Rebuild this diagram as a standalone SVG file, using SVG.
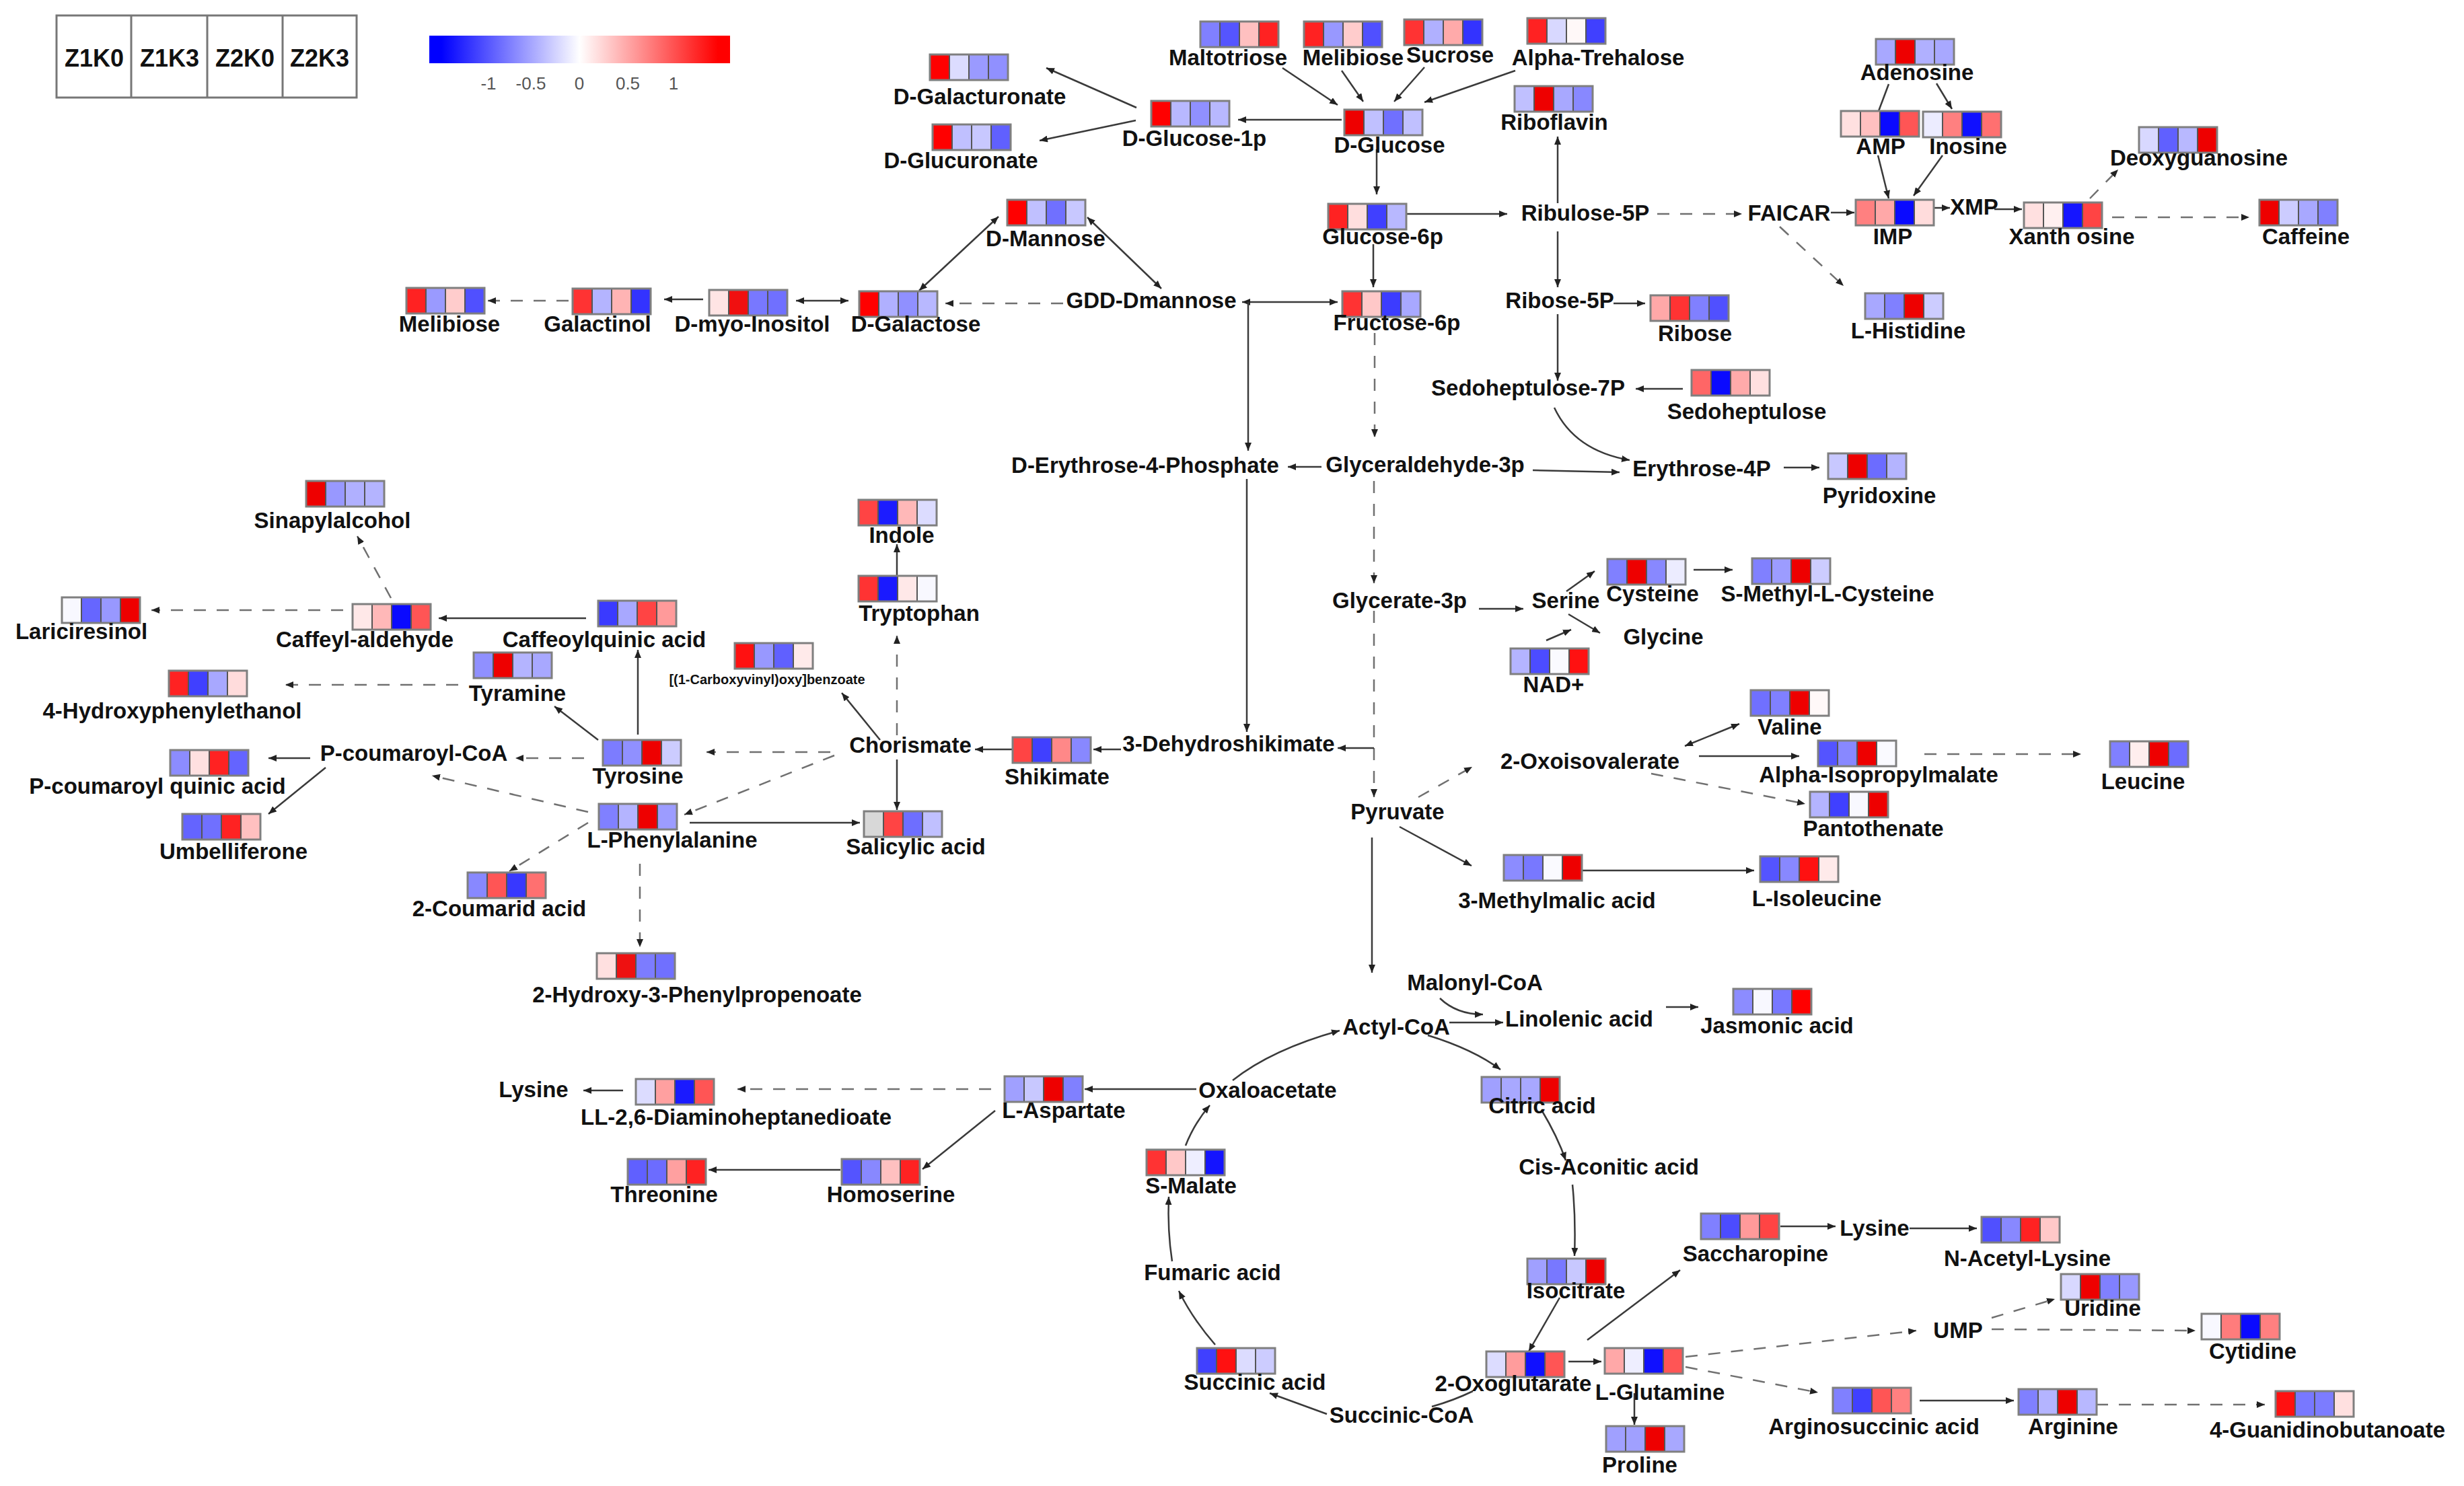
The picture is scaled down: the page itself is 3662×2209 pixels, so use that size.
<svg xmlns="http://www.w3.org/2000/svg" width="3662" height="2209" viewBox="0 0 3662 2209">
<defs>
<linearGradient id="cb" x1="0" y1="0" x2="1" y2="0">
<stop offset="0" stop-color="#0000ff"/><stop offset="0.04" stop-color="#0000ff"/><stop offset="0.5" stop-color="#ffffff"/><stop offset="0.96" stop-color="#ff0000"/><stop offset="1" stop-color="#ff0000"/>
</linearGradient>
<marker id="a" markerUnits="userSpaceOnUse" markerWidth="13" markerHeight="10" refX="12" refY="5" orient="auto-start-reverse"><path d="M0,0 L12,5 L0,10 z" fill="#222"/></marker>
</defs>
<style>
text{font-family:"Liberation Sans",Arial,sans-serif;fill:#111}
.l{font-size:33px;font-weight:bold;text-anchor:middle}
.sm{font-size:20px;font-weight:bold;text-anchor:middle}
.lg{font-size:36px;font-weight:bold;text-anchor:middle}
.tk{font-family:"Liberation Sans Narrow","Liberation Sans",sans-serif;font-size:26px;fill:#555;text-anchor:middle}
.hm rect{stroke:#555;stroke-width:2}
.hm rect.o{fill:none;stroke:#7f7f7f;stroke-width:3}
#edges path{fill:none;stroke:#3a3a3a;stroke-width:2.5}
#edges .d{stroke:#707070;stroke-dasharray:18 16}
#edges .e{marker-end:url(#a)}
#edges .b{marker-start:url(#a);marker-end:url(#a)}
</style>
<rect width="3662" height="2209" fill="#fff"/>
<g id="legend">
<rect x="84" y="23" width="446" height="122" fill="#fff" stroke="#777" stroke-width="3"/>
<path d="M195,23V145M308,23V145M420,23V145" stroke="#777" stroke-width="3"/>
<text class="lg" x="140" y="99">Z1K0</text><text class="lg" x="252" y="99">Z1K3</text><text class="lg" x="364" y="99">Z2K0</text><text class="lg" x="475" y="99">Z2K3</text>
</g>
<g id="colorbar">
<rect x="638" y="53" width="447" height="41" fill="url(#cb)"/>
<text class="tk" x="726" y="133">-1</text><text class="tk" x="789" y="133">-0.5</text><text class="tk" x="861" y="133">0</text><text class="tk" x="933" y="133">0.5</text><text class="tk" x="1001" y="133">1</text>
</g>
<g id="edges">
<path class="e" d="M1689,160L1555,101"/>
<path class="e" d="M1688,179L1545,209"/>
<path class="e" d="M1994,178L1840,178"/>
<path class="e" d="M1906,101L1988,156"/>
<path class="e" d="M1994,105L2026,151"/>
<path class="e" d="M2117,100L2072,151"/>
<path class="e" d="M2252,105L2117,152"/>
<path class="e" d="M2046,222L2046,289"/>
<path class="e" d="M2089,318L2240,318"/>
<path class="e" d="M2315,302L2315,203"/>
<path class="e" d="M2315,344L2315,427"/>
<path class="d e" d="M2463,318L2589,318"/>
<path class="d e" d="M2645,337L2740,425"/>
<path class="e" d="M2721,316L2756,316"/>
<path d="M2807,125L2792,165"/>
<path class="e" d="M2878,124L2901,162"/>
<path class="e" d="M2791,231L2807,295"/>
<path class="e" d="M2887,231L2844,291"/>
<path class="e" d="M2875,309L2898,309"/>
<path class="e" d="M2964,311L3005,311"/>
<path class="d e" d="M3106,295L3148,252"/>
<path class="d e" d="M3139,323L3343,323"/>
<path class="e" d="M2041,363L2041,427"/>
<path class="b" d="M1846,449L1988,449"/>
<path class="e" d="M1855,449L1855,670"/>
<path class="e" d="M1853,712L1853,1088"/>
<path class="d e" d="M2043,495L2043,650"/>
<path class="e" d="M1964,694L1914,694"/>
<path class="e" d="M2278,699L2407,702"/>
<path class="e" d="M2398,451L2445,451"/>
<path class="e" d="M2315,467L2315,566"/>
<path class="e" d="M2501,578L2431,578"/>
<path class="e" d="M2310,606Q2340,670 2422,684"/>
<path class="e" d="M2651,695L2704,695"/>
<path class="d e" d="M1580,451L1405,451"/>
<path class="b" d="M1183,447L1261,447"/>
<path class="e" d="M1045,445L987,445"/>
<path class="d e" d="M845,447L725,447"/>
<path class="b" d="M1366,432L1484,322"/>
<path class="b" d="M1616,323L1726,429"/>
<path class="d e" d="M2042,715L2042,867"/>
<path class="d e" d="M2042,908L2042,1185"/>
<path class="e" d="M2042,1112L1988,1112"/>
<path class="e" d="M2198,905L2264,905"/>
<path class="e" d="M2328,879L2370,849"/>
<path class="e" d="M2331,913L2378,941"/>
<path class="e" d="M2298,952L2335,936"/>
<path class="e" d="M2517,847L2575,847"/>
<path class="b" d="M2504,1109L2585,1076"/>
<path class="e" d="M2525,1124L2674,1124"/>
<path class="d e" d="M2860,1121L3093,1121"/>
<path class="d e" d="M2454,1150L2683,1195"/>
<path class="d e" d="M2108,1185L2188,1140"/>
<path class="e" d="M2080,1229L2187,1287"/>
<path class="e" d="M2350,1294L2607,1294"/>
<path class="e" d="M2039,1245L2039,1446"/>
<path class="e" d="M2140,1484Q2165,1508 2204,1508"/>
<path class="e" d="M2154,1520L2234,1520"/>
<path class="e" d="M2476,1497L2524,1497"/>
<path class="e" d="M2122,1539Q2190,1560 2230,1590"/>
<path class="e" d="M2291,1650Q2315,1690 2327,1725"/>
<path class="e" d="M2337,1761Q2342,1810 2340,1867"/>
<path class="e" d="M2318,1929L2272,2009"/>
<path class="e" d="M2359,1992L2497,1888"/>
<path class="e" d="M2646,1823L2728,1823"/>
<path class="e" d="M2838,1826L2938,1826"/>
<path class="e" d="M2331,2024L2380,2024"/>
<path class="e" d="M2429,2071L2429,2118"/>
<path class="d e" d="M2505,2017L2848,1978"/>
<path class="d e" d="M2505,2032L2702,2070"/>
<path class="d e" d="M2960,1959L3054,1931"/>
<path class="d e" d="M2960,1976L3263,1978"/>
<path class="e" d="M2853,2082L2993,2082"/>
<path class="d e" d="M3115,2088L3366,2088"/>
<path d="M2189,2068Q2160,2082 2128,2091"/>
<path class="e" d="M1972,2102L1887,2071"/>
<path class="e" d="M1806,1999Q1772,1960 1752,1919"/>
<path class="e" d="M1742,1875Q1735,1830 1737,1779"/>
<path class="e" d="M1762,1703Q1775,1670 1798,1643"/>
<path class="e" d="M1832,1606Q1890,1560 1991,1532"/>
<path class="e" d="M1778,1619L1612,1619"/>
<path class="d e" d="M1473,1619L1096,1619"/>
<path class="e" d="M926,1621L867,1621"/>
<path class="e" d="M1479,1651L1371,1738"/>
<path class="e" d="M1249,1739L1053,1739"/>
<path class="e" d="M1333,856L1333,809"/>
<path class="d e" d="M1333,1093L1333,945"/>
<path class="e" d="M1308,1100L1251,1030"/>
<path class="e" d="M1504,1114L1449,1114"/>
<path class="e" d="M1666,1114L1625,1114"/>
<path class="d e" d="M1234,1118L1050,1118"/>
<path class="d e" d="M1240,1123L1017,1211"/>
<path class="e" d="M1333,1129L1333,1204"/>
<path class="e" d="M1025,1223L1278,1223"/>
<path class="e" d="M948,1092L948,966"/>
<path class="e" d="M889,1100L824,1050"/>
<path class="d e" d="M868,1127L766,1127"/>
<path class="e" d="M871,919L652,919"/>
<path class="d e" d="M510,907L225,907"/>
<path class="d e" d="M581,889L531,797"/>
<path class="d e" d="M681,1018L424,1018"/>
<path class="e" d="M461,1127L399,1127"/>
<path class="e" d="M484,1141L399,1210"/>
<path class="d e" d="M874,1207L642,1153"/>
<path class="d e" d="M874,1223L757,1295"/>
<path class="d e" d="M951,1284L951,1408"/>
</g>
<g id="n-dgalacturonate"><g class="hm" transform="translate(1382,81)"><rect x="0" width="29" height="38" fill="#ff0000"/><rect x="29" width="29" height="38" fill="#dcdcff"/><rect x="58" width="29" height="38" fill="#9a9aff"/><rect x="87" width="29" height="38" fill="#9090ff"/><rect class="o" width="116" height="38"/></g><text class="l" x="1456" y="155">D-Galacturonate</text></g>
<g id="n-dglucuronate"><g class="hm" transform="translate(1386,185)"><rect x="0" width="29" height="38" fill="#ff0000"/><rect x="29" width="29" height="38" fill="#c0c0ff"/><rect x="58" width="29" height="38" fill="#c8c8ff"/><rect x="87" width="29" height="38" fill="#6060ff"/><rect class="o" width="116" height="38"/></g><text class="l" x="1428" y="250">D-Glucuronate</text></g>
<g id="n-dglucose1p"><g class="hm" transform="translate(1711,150)"><rect x="0" width="29" height="38" fill="#ff0000"/><rect x="29" width="29" height="38" fill="#b8b8ff"/><rect x="58" width="29" height="38" fill="#9090ff"/><rect x="87" width="29" height="38" fill="#b8b8ff"/><rect class="o" width="116" height="38"/></g><text class="l" x="1775" y="217">D-Glucose-1p</text></g>
<g id="n-dmannose"><g class="hm" transform="translate(1497,297)"><rect x="0" width="29" height="38" fill="#ff0000"/><rect x="29" width="29" height="38" fill="#c0c0ff"/><rect x="58" width="29" height="38" fill="#7070ff"/><rect x="87" width="29" height="38" fill="#c8c8ff"/><rect class="o" width="116" height="38"/></g><text class="l" x="1554" y="366">D-Mannose</text></g>
<g id="n-dmyoinositol"><g class="hm" transform="translate(1054,431)"><rect x="0" width="29" height="38" fill="#ffe4e4"/><rect x="29" width="29" height="38" fill="#f01010"/><rect x="58" width="29" height="38" fill="#7878ff"/><rect x="87" width="29" height="38" fill="#7070ff"/><rect class="o" width="116" height="38"/></g><text class="l" x="1118" y="493">D-myo-Inositol</text></g>
<g id="n-galactinol"><g class="hm" transform="translate(851,429)"><rect x="0" width="29" height="38" fill="#ff3333"/><rect x="29" width="29" height="38" fill="#b4b4ff"/><rect x="58" width="29" height="38" fill="#ffb4b4"/><rect x="87" width="29" height="38" fill="#3333ff"/><rect class="o" width="116" height="38"/></g><text class="l" x="888" y="493">Galactinol</text></g>
<g id="n-melibiose1"><g class="hm" transform="translate(604,428)"><rect x="0" width="29" height="38" fill="#ff2222"/><rect x="29" width="29" height="38" fill="#9a9aff"/><rect x="58" width="29" height="38" fill="#ffcccc"/><rect x="87" width="29" height="38" fill="#5050ff"/><rect class="o" width="116" height="38"/></g><text class="l" x="668" y="493">Melibiose</text></g>
<g id="n-dgalactose"><g class="hm" transform="translate(1277,433)"><rect x="0" width="29" height="38" fill="#ff0000"/><rect x="29" width="29" height="38" fill="#b0b0ff"/><rect x="58" width="29" height="38" fill="#9090ff"/><rect x="87" width="29" height="38" fill="#b8b8ff"/><rect class="o" width="116" height="38"/></g><text class="l" x="1361" y="493">D-Galactose</text></g>
<g id="n-gdd"><text class="l" x="1711" y="458">GDD-Dmannose</text></g>
<g id="n-maltotriose"><g class="hm" transform="translate(1784,32)"><rect x="0" width="29" height="38" fill="#8080ff"/><rect x="29" width="29" height="38" fill="#5555ff"/><rect x="58" width="29" height="38" fill="#ffc0c0"/><rect x="87" width="29" height="38" fill="#ff2222"/><rect class="o" width="116" height="38"/></g><text class="l" x="1825" y="97">Maltotriose</text></g>
<g id="n-melibiose2"><g class="hm" transform="translate(1938,32)"><rect x="0" width="29" height="38" fill="#ff2222"/><rect x="29" width="29" height="38" fill="#9898ff"/><rect x="58" width="29" height="38" fill="#ffcccc"/><rect x="87" width="29" height="38" fill="#5050ff"/><rect class="o" width="116" height="38"/></g><text class="l" x="2011" y="97">Melibiose</text></g>
<g id="n-sucrose"><g class="hm" transform="translate(2087,29)"><rect x="0" width="29" height="38" fill="#ff3333"/><rect x="29" width="29" height="38" fill="#b0b0ff"/><rect x="58" width="29" height="38" fill="#ffaaaa"/><rect x="87" width="29" height="38" fill="#3333ff"/><rect class="o" width="116" height="38"/></g><text class="l" x="2155" y="93">Sucrose</text></g>
<g id="n-trehalose"><g class="hm" transform="translate(2270,27)"><rect x="0" width="29" height="38" fill="#ff2222"/><rect x="29" width="29" height="38" fill="#d8d8ff"/><rect x="58" width="29" height="38" fill="#fff8f8"/><rect x="87" width="29" height="38" fill="#4040ff"/><rect class="o" width="116" height="38"/></g><text class="l" x="2375" y="97">Alpha-Trehalose</text></g>
<g id="n-dglucose"><g class="hm" transform="translate(1998,163)"><rect x="0" width="29" height="38" fill="#ee0000"/><rect x="29" width="29" height="38" fill="#c0c0ff"/><rect x="58" width="29" height="38" fill="#7070ff"/><rect x="87" width="29" height="38" fill="#c0c0ff"/><rect class="o" width="116" height="38"/></g><text class="l" x="2065" y="227">D-Glucose</text></g>
<g id="n-riboflavin"><g class="hm" transform="translate(2251,128)"><rect x="0" width="29" height="38" fill="#c0c0ff"/><rect x="29" width="29" height="38" fill="#ee0000"/><rect x="58" width="29" height="38" fill="#a8a8ff"/><rect x="87" width="29" height="38" fill="#8888ff"/><rect class="o" width="116" height="38"/></g><text class="l" x="2310" y="193">Riboflavin</text></g>
<g id="n-glucose6p"><g class="hm" transform="translate(1974,303)"><rect x="0" width="29" height="38" fill="#ff2222"/><rect x="29" width="29" height="38" fill="#ffdede"/><rect x="58" width="29" height="38" fill="#4040ff"/><rect x="87" width="29" height="38" fill="#b8b8ff"/><rect class="o" width="116" height="38"/></g><text class="l" x="2055" y="363">Glucose-6p</text></g>
<g id="n-ribulose5p"><text class="l" x="2356" y="328">Ribulose-5P</text></g>
<g id="n-faicar"><text class="l" x="2659" y="328">FAICAR</text></g>
<g id="n-fructose6p"><g class="hm" transform="translate(1995,433)"><rect x="0" width="29" height="38" fill="#ff3333"/><rect x="29" width="29" height="38" fill="#ffc8c8"/><rect x="58" width="29" height="38" fill="#3c3cff"/><rect x="87" width="29" height="38" fill="#a8a8ff"/><rect class="o" width="116" height="38"/></g><text class="l" x="2076" y="491">Fructose-6p</text></g>
<g id="n-glyceraldehyde3p"><text class="l" x="2118" y="702">Glyceraldehyde-3p</text></g>
<g id="n-derythrose4p"><text class="l" x="1702" y="703">D-Erythrose-4-Phosphate</text></g>
<g id="n-erythrose4p"><text class="l" x="2529" y="708">Erythrose-4P</text></g>
<g id="n-ribose5p"><text class="l" x="2318" y="458">Ribose-5P</text></g>
<g id="n-ribose"><g class="hm" transform="translate(2453,439)"><rect x="0" width="29" height="38" fill="#ffa8a8"/><rect x="29" width="29" height="38" fill="#ff3333"/><rect x="58" width="29" height="38" fill="#8080ff"/><rect x="87" width="29" height="38" fill="#5050ff"/><rect class="o" width="116" height="38"/></g><text class="l" x="2519" y="507">Ribose</text></g>
<g id="n-sedoheptulose7p"><text class="l" x="2271" y="588">Sedoheptulose-7P</text></g>
<g id="n-sedoheptulose"><g class="hm" transform="translate(2514,550)"><rect x="0" width="29" height="38" fill="#ff6666"/><rect x="29" width="29" height="38" fill="#0a0aff"/><rect x="58" width="29" height="38" fill="#ffaaaa"/><rect x="87" width="29" height="38" fill="#ffe0e0"/><rect class="o" width="116" height="38"/></g><text class="l" x="2596" y="623">Sedoheptulose</text></g>
<g id="n-pyridoxine"><g class="hm" transform="translate(2717,674)"><rect x="0" width="29" height="38" fill="#c8c8ff"/><rect x="29" width="29" height="38" fill="#ee0000"/><rect x="58" width="29" height="38" fill="#6c6cff"/><rect x="87" width="29" height="38" fill="#b4b4ff"/><rect class="o" width="116" height="38"/></g><text class="l" x="2793" y="748">Pyridoxine</text></g>
<g id="n-adenosine"><g class="hm" transform="translate(2788,58)"><rect x="0" width="29" height="38" fill="#a8a8ff"/><rect x="29" width="29" height="38" fill="#ee0000"/><rect x="58" width="29" height="38" fill="#b0b0ff"/><rect x="87" width="29" height="38" fill="#a8a8ff"/><rect class="o" width="116" height="38"/></g><text class="l" x="2849" y="119">Adenosine</text></g>
<g id="n-amp"><g class="hm" transform="translate(2736,165)"><rect x="0" width="29" height="38" fill="#ffe0e0"/><rect x="29" width="29" height="38" fill="#ffc0c0"/><rect x="58" width="29" height="38" fill="#0a0aff"/><rect x="87" width="29" height="38" fill="#ff5555"/><rect class="o" width="116" height="38"/></g><text class="l" x="2795" y="229">AMP</text></g>
<g id="n-inosine"><g class="hm" transform="translate(2858,166)"><rect x="0" width="29" height="38" fill="#ececff"/><rect x="29" width="29" height="38" fill="#ff8080"/><rect x="58" width="29" height="38" fill="#1010ff"/><rect x="87" width="29" height="38" fill="#ff7070"/><rect class="o" width="116" height="38"/></g><text class="l" x="2925" y="229">Inosine</text></g>
<g id="n-imp"><g class="hm" transform="translate(2758,297)"><rect x="0" width="29" height="38" fill="#ff8080"/><rect x="29" width="29" height="38" fill="#ffa8a8"/><rect x="58" width="29" height="38" fill="#0a0aff"/><rect x="87" width="29" height="38" fill="#ffdcdc"/><rect class="o" width="116" height="38"/></g><text class="l" x="2813" y="363">IMP</text></g>
<g id="n-xmp"><text class="l" x="2934" y="319">XMP</text></g>
<g id="n-xanthosine"><g class="hm" transform="translate(3008,301)"><rect x="0" width="29" height="38" fill="#ffe0e0"/><rect x="29" width="29" height="38" fill="#fff0f0"/><rect x="58" width="29" height="38" fill="#1515ff"/><rect x="87" width="29" height="38" fill="#ff4444"/><rect class="o" width="116" height="38"/></g><text class="l" x="3079" y="363">Xanth osine</text></g>
<g id="n-deoxyguanosine"><g class="hm" transform="translate(3179,189)"><rect x="0" width="29" height="38" fill="#d8d8ff"/><rect x="29" width="29" height="38" fill="#6060ff"/><rect x="58" width="29" height="38" fill="#b8b8ff"/><rect x="87" width="29" height="38" fill="#ee0000"/><rect class="o" width="116" height="38"/></g><text class="l" x="3268" y="246">Deoxyguanosine</text></g>
<g id="n-caffeine"><g class="hm" transform="translate(3358,297)"><rect x="0" width="29" height="38" fill="#ee0000"/><rect x="29" width="29" height="38" fill="#ccccff"/><rect x="58" width="29" height="38" fill="#a8a8ff"/><rect x="87" width="29" height="38" fill="#8080ff"/><rect class="o" width="116" height="38"/></g><text class="l" x="3427" y="363">Caffeine</text></g>
<g id="n-lhistidine"><g class="hm" transform="translate(2772,436)"><rect x="0" width="29" height="38" fill="#a8a8ff"/><rect x="29" width="29" height="38" fill="#8080ff"/><rect x="58" width="29" height="38" fill="#ee0000"/><rect x="87" width="29" height="38" fill="#ccccff"/><rect class="o" width="116" height="38"/></g><text class="l" x="2836" y="503">L-Histidine</text></g>
<g id="n-sinapylalcohol"><g class="hm" transform="translate(455,715)"><rect x="0" width="29" height="38" fill="#ee0000"/><rect x="29" width="29" height="38" fill="#9898ff"/><rect x="58" width="29" height="38" fill="#b0b0ff"/><rect x="87" width="29" height="38" fill="#b4b4ff"/><rect class="o" width="116" height="38"/></g><text class="l" x="494" y="785">Sinapylalcohol</text></g>
<g id="n-caffeylaldehyde"><g class="hm" transform="translate(524,898)"><rect x="0" width="29" height="38" fill="#ffe8e8"/><rect x="29" width="29" height="38" fill="#ffb8b8"/><rect x="58" width="29" height="38" fill="#0a0aff"/><rect x="87" width="29" height="38" fill="#ff5555"/><rect class="o" width="116" height="38"/></g><text class="l" x="542" y="962">Caffeyl-aldehyde</text></g>
<g id="n-lariciresinol"><g class="hm" transform="translate(92,888)"><rect x="0" width="29" height="38" fill="#f8f8ff"/><rect x="29" width="29" height="38" fill="#6666ff"/><rect x="58" width="29" height="38" fill="#9898ff"/><rect x="87" width="29" height="38" fill="#ee0000"/><rect class="o" width="116" height="38"/></g><text class="l" x="121" y="950">Lariciresinol</text></g>
<g id="n-caffeoylquinic"><g class="hm" transform="translate(889,893)"><rect x="0" width="29" height="38" fill="#3a3aff"/><rect x="29" width="29" height="38" fill="#a8a8ff"/><rect x="58" width="29" height="38" fill="#ff4444"/><rect x="87" width="29" height="38" fill="#ff9a9a"/><rect class="o" width="116" height="38"/></g><text class="l" x="898" y="962">Caffeoylquinic acid</text></g>
<g id="n-tyramine"><g class="hm" transform="translate(704,970)"><rect x="0" width="29" height="38" fill="#9090ff"/><rect x="29" width="29" height="38" fill="#ee0000"/><rect x="58" width="29" height="38" fill="#b4b4ff"/><rect x="87" width="29" height="38" fill="#a8a8ff"/><rect class="o" width="116" height="38"/></g><text class="l" x="769" y="1042">Tyramine</text></g>
<g id="n-hydroxyphenylethanol"><g class="hm" transform="translate(251,997)"><rect x="0" width="29" height="38" fill="#ff2222"/><rect x="29" width="29" height="38" fill="#4040ff"/><rect x="58" width="29" height="38" fill="#a8a8ff"/><rect x="87" width="29" height="38" fill="#ffdcdc"/><rect class="o" width="116" height="38"/></g><text class="l" x="256" y="1068">4-Hydroxyphenylethanol</text></g>
<g id="n-tyrosine"><g class="hm" transform="translate(896,1100)"><rect x="0" width="29" height="38" fill="#7c7cff"/><rect x="29" width="29" height="38" fill="#9090ff"/><rect x="58" width="29" height="38" fill="#ee0000"/><rect x="87" width="29" height="38" fill="#ccccff"/><rect class="o" width="116" height="38"/></g><text class="l" x="948" y="1165">Tyrosine</text></g>
<g id="n-pcoumaroylcoa"><text class="l" x="615" y="1131">P-coumaroyl-CoA</text></g>
<g id="n-pcoumaroylquinic"><g class="hm" transform="translate(253,1115)"><rect x="0" width="29" height="38" fill="#8c8cff"/><rect x="29" width="29" height="38" fill="#ffe0e0"/><rect x="58" width="29" height="38" fill="#ff2222"/><rect x="87" width="29" height="38" fill="#6464ff"/><rect class="o" width="116" height="38"/></g><text class="l" x="234" y="1180">P-coumaroyl quinic acid</text></g>
<g id="n-umbelliferone"><g class="hm" transform="translate(271,1210)"><rect x="0" width="29" height="38" fill="#6464ff"/><rect x="29" width="29" height="38" fill="#7070ff"/><rect x="58" width="29" height="38" fill="#ff2222"/><rect x="87" width="29" height="38" fill="#ffc0c0"/><rect class="o" width="116" height="38"/></g><text class="l" x="347" y="1277">Umbelliferone</text></g>
<g id="n-lphenylalanine"><g class="hm" transform="translate(890,1195)"><rect x="0" width="29" height="38" fill="#8080ff"/><rect x="29" width="29" height="38" fill="#b4b4ff"/><rect x="58" width="29" height="38" fill="#ee0000"/><rect x="87" width="29" height="38" fill="#9c9cff"/><rect class="o" width="116" height="38"/></g><text class="l" x="999" y="1260">L-Phenylalanine</text></g>
<g id="n-coumarid"><g class="hm" transform="translate(695,1297)"><rect x="0" width="29" height="38" fill="#8888ff"/><rect x="29" width="29" height="38" fill="#ff5555"/><rect x="58" width="29" height="38" fill="#3838ff"/><rect x="87" width="29" height="38" fill="#ff7070"/><rect class="o" width="116" height="38"/></g><text class="l" x="742" y="1362">2-Coumarid acid</text></g>
<g id="n-hydroxyphenylpropenoate"><g class="hm" transform="translate(887,1417)"><rect x="0" width="29" height="38" fill="#ffe0e0"/><rect x="29" width="29" height="38" fill="#ee1111"/><rect x="58" width="29" height="38" fill="#7c7cff"/><rect x="87" width="29" height="38" fill="#7070ff"/><rect class="o" width="116" height="38"/></g><text class="l" x="1036" y="1490">2-Hydroxy-3-Phenylpropenoate</text></g>
<g id="n-indole"><g class="hm" transform="translate(1276,743)"><rect x="0" width="29" height="38" fill="#ff4444"/><rect x="29" width="29" height="38" fill="#1c1cff"/><rect x="58" width="29" height="38" fill="#ffb8b8"/><rect x="87" width="29" height="38" fill="#dcdcff"/><rect class="o" width="116" height="38"/></g><text class="l" x="1340" y="807">Indole</text></g>
<g id="n-tryptophan"><g class="hm" transform="translate(1276,856)"><rect x="0" width="29" height="38" fill="#ff3333"/><rect x="29" width="29" height="38" fill="#1a1aff"/><rect x="58" width="29" height="38" fill="#ffe8e8"/><rect x="87" width="29" height="38" fill="#f8f8ff"/><rect class="o" width="116" height="38"/></g><text class="l" x="1366" y="923">Tryptophan</text></g>
<g id="n-carboxyvinyl"><g class="hm" transform="translate(1092,956)"><rect x="0" width="29" height="38" fill="#ff1111"/><rect x="29" width="29" height="38" fill="#9898ff"/><rect x="58" width="29" height="38" fill="#6060ff"/><rect x="87" width="29" height="38" fill="#ffeaea"/><rect class="o" width="116" height="38"/></g><text class="sm" x="1140" y="1017">[(1-Carboxyvinyl)oxy]benzoate</text></g>
<g id="n-chorismate"><text class="l" x="1353" y="1119">Chorismate</text></g>
<g id="n-shikimate"><g class="hm" transform="translate(1505,1096)"><rect x="0" width="29" height="38" fill="#ff4444"/><rect x="29" width="29" height="38" fill="#4040ff"/><rect x="58" width="29" height="38" fill="#ff8888"/><rect x="87" width="29" height="38" fill="#8888ff"/><rect class="o" width="116" height="38"/></g><text class="l" x="1571" y="1166">Shikimate</text></g>
<g id="n-dehydroshikimate"><text class="l" x="1826" y="1117">3-Dehydroshikimate</text></g>
<g id="n-salicylic"><g class="hm" transform="translate(1284,1206)"><rect x="0" width="29" height="38" fill="#d8d8d8"/><rect x="29" width="29" height="38" fill="#ff4444"/><rect x="58" width="29" height="38" fill="#6e6eff"/><rect x="87" width="29" height="38" fill="#c0c0ff"/><rect class="o" width="116" height="38"/></g><text class="l" x="1361" y="1270">Salicylic acid</text></g>
<g id="n-glycerate3p"><text class="l" x="2080" y="904">Glycerate-3p</text></g>
<g id="n-serine"><text class="l" x="2327" y="904">Serine</text></g>
<g id="n-cysteine"><g class="hm" transform="translate(2389,831)"><rect x="0" width="29" height="38" fill="#8080ff"/><rect x="29" width="29" height="38" fill="#ee0000"/><rect x="58" width="29" height="38" fill="#8888ff"/><rect x="87" width="29" height="38" fill="#ececff"/><rect class="o" width="116" height="38"/></g><text class="l" x="2456" y="894">Cysteine</text></g>
<g id="n-smethylcysteine"><g class="hm" transform="translate(2604,830)"><rect x="0" width="29" height="38" fill="#8080ff"/><rect x="29" width="29" height="38" fill="#9c9cff"/><rect x="58" width="29" height="38" fill="#ee0000"/><rect x="87" width="29" height="38" fill="#ccccff"/><rect class="o" width="116" height="38"/></g><text class="l" x="2716" y="894">S-Methyl-L-Cysteine</text></g>
<g id="n-glycine"><text class="l" x="2472" y="958">Glycine</text></g>
<g id="n-nad"><g class="hm" transform="translate(2245,964)"><rect x="0" width="29" height="38" fill="#b4b4ff"/><rect x="29" width="29" height="38" fill="#4c4cff"/><rect x="58" width="29" height="38" fill="#fafaff"/><rect x="87" width="29" height="38" fill="#ff1111"/><rect class="o" width="116" height="38"/></g><text class="l" x="2309" y="1029">NAD+</text></g>
<g id="n-valine"><g class="hm" transform="translate(2602,1026)"><rect x="0" width="29" height="38" fill="#7070ff"/><rect x="29" width="29" height="38" fill="#8080ff"/><rect x="58" width="29" height="38" fill="#ee0000"/><rect x="87" width="29" height="38" fill="#fff8f8"/><rect class="o" width="116" height="38"/></g><text class="l" x="2660" y="1092">Valine</text></g>
<g id="n-oxoisovalerate"><text class="l" x="2363" y="1143">2-Oxoisovalerate</text></g>
<g id="n-isopropylmalate"><g class="hm" transform="translate(2702,1101)"><rect x="0" width="29" height="38" fill="#5454ff"/><rect x="29" width="29" height="38" fill="#8888ff"/><rect x="58" width="29" height="38" fill="#ee0000"/><rect x="87" width="29" height="38" fill="#fafaff"/><rect class="o" width="116" height="38"/></g><text class="l" x="2792" y="1163">Alpha-Isopropylmalate</text></g>
<g id="n-leucine"><g class="hm" transform="translate(3136,1102)"><rect x="0" width="29" height="38" fill="#8080ff"/><rect x="29" width="29" height="38" fill="#ffeeee"/><rect x="58" width="29" height="38" fill="#ee0000"/><rect x="87" width="29" height="38" fill="#6c6cff"/><rect class="o" width="116" height="38"/></g><text class="l" x="3185" y="1173">Leucine</text></g>
<g id="n-pantothenate"><g class="hm" transform="translate(2690,1177)"><rect x="0" width="29" height="38" fill="#b4b4ff"/><rect x="29" width="29" height="38" fill="#4040ff"/><rect x="58" width="29" height="38" fill="#f8f8ff"/><rect x="87" width="29" height="38" fill="#ee0000"/><rect class="o" width="116" height="38"/></g><text class="l" x="2784" y="1243">Pantothenate</text></g>
<g id="n-pyruvate"><text class="l" x="2077" y="1218">Pyruvate</text></g>
<g id="n-methylmalic"><g class="hm" transform="translate(2235,1271)"><rect x="0" width="29" height="38" fill="#8c8cff"/><rect x="29" width="29" height="38" fill="#7878ff"/><rect x="58" width="29" height="38" fill="#fafaff"/><rect x="87" width="29" height="38" fill="#ee0000"/><rect class="o" width="116" height="38"/></g><text class="l" x="2314" y="1350">3-Methylmalic acid</text></g>
<g id="n-lisoleucine"><g class="hm" transform="translate(2616,1273)"><rect x="0" width="29" height="38" fill="#5454ff"/><rect x="29" width="29" height="38" fill="#8888ff"/><rect x="58" width="29" height="38" fill="#ff1111"/><rect x="87" width="29" height="38" fill="#ffeaea"/><rect class="o" width="116" height="38"/></g><text class="l" x="2700" y="1347">L-Isoleucine</text></g>
<g id="n-malonylcoa"><text class="l" x="2192" y="1472">Malonyl-CoA</text></g>
<g id="n-actylcoa"><text class="l" x="2075" y="1538">Actyl-CoA</text></g>
<g id="n-linolenic"><text class="l" x="2347" y="1526">Linolenic acid</text></g>
<g id="n-jasmonic"><g class="hm" transform="translate(2576,1470)"><rect x="0" width="29" height="38" fill="#8c8cff"/><rect x="29" width="29" height="38" fill="#f8f8ff"/><rect x="58" width="29" height="38" fill="#7878ff"/><rect x="87" width="29" height="38" fill="#ff0000"/><rect class="o" width="116" height="38"/></g><text class="l" x="2641" y="1536">Jasmonic acid</text></g>
<g id="n-citric"><g class="hm" transform="translate(2202,1601)"><rect x="0" width="29" height="38" fill="#a0a0ff"/><rect x="29" width="29" height="38" fill="#a8a8ff"/><rect x="58" width="29" height="38" fill="#a8a8ff"/><rect x="87" width="29" height="38" fill="#ee0000"/><rect class="o" width="116" height="38"/></g><text class="l" x="2292" y="1655">Citric acid</text></g>
<g id="n-cisaconitic"><text class="l" x="2391" y="1746">Cis-Aconitic acid</text></g>
<g id="n-isocitrate"><g class="hm" transform="translate(2270,1871)"><rect x="0" width="29" height="38" fill="#a0a0ff"/><rect x="29" width="29" height="38" fill="#7878ff"/><rect x="58" width="29" height="38" fill="#c8c8ff"/><rect x="87" width="29" height="38" fill="#ee0000"/><rect class="o" width="116" height="38"/></g><text class="l" x="2342" y="1930">Isocitrate</text></g>
<g id="n-oxoglutarate"><g class="hm" transform="translate(2209,2009)"><rect x="0" width="29" height="38" fill="#dcdcff"/><rect x="29" width="29" height="38" fill="#ff9c9c"/><rect x="58" width="29" height="38" fill="#1010ff"/><rect x="87" width="29" height="38" fill="#ff5555"/><rect class="o" width="116" height="38"/></g><text class="l" x="2249" y="2068">2-Oxoglutarate</text></g>
<g id="n-saccharopine"><g class="hm" transform="translate(2528,1804)"><rect x="0" width="29" height="38" fill="#8080ff"/><rect x="29" width="29" height="38" fill="#4c4cff"/><rect x="58" width="29" height="38" fill="#ff9a9a"/><rect x="87" width="29" height="38" fill="#ff4444"/><rect class="o" width="116" height="38"/></g><text class="l" x="2609" y="1875">Saccharopine</text></g>
<g id="n-lysine2"><text class="l" x="2786" y="1837">Lysine</text></g>
<g id="n-nacetyllysine"><g class="hm" transform="translate(2945,1809)"><rect x="0" width="29" height="38" fill="#5050ff"/><rect x="29" width="29" height="38" fill="#8888ff"/><rect x="58" width="29" height="38" fill="#ff2222"/><rect x="87" width="29" height="38" fill="#ffc8c8"/><rect class="o" width="116" height="38"/></g><text class="l" x="3013" y="1882">N-Acetyl-Lysine</text></g>
<g id="n-uridine"><g class="hm" transform="translate(3063,1894)"><rect x="0" width="29" height="38" fill="#d8d8ff"/><rect x="29" width="29" height="38" fill="#ee0000"/><rect x="58" width="29" height="38" fill="#8080ff"/><rect x="87" width="29" height="38" fill="#9898ff"/><rect class="o" width="116" height="38"/></g><text class="l" x="3125" y="1956">Uridine</text></g>
<g id="n-ump"><text class="l" x="2910" y="1989">UMP</text></g>
<g id="n-cytidine"><g class="hm" transform="translate(3272,1953)"><rect x="0" width="29" height="38" fill="#f8f8ff"/><rect x="29" width="29" height="38" fill="#ff7c7c"/><rect x="58" width="29" height="38" fill="#0a0aff"/><rect x="87" width="29" height="38" fill="#ff8080"/><rect class="o" width="116" height="38"/></g><text class="l" x="3348" y="2020">Cytidine</text></g>
<g id="n-arginosuccinic"><g class="hm" transform="translate(2724,2063)"><rect x="0" width="29" height="38" fill="#8080ff"/><rect x="29" width="29" height="38" fill="#4040ff"/><rect x="58" width="29" height="38" fill="#ff5555"/><rect x="87" width="29" height="38" fill="#ff8080"/><rect class="o" width="116" height="38"/></g><text class="l" x="2785" y="2132">Arginosuccinic acid</text></g>
<g id="n-arginine"><g class="hm" transform="translate(3000,2065)"><rect x="0" width="29" height="38" fill="#8080ff"/><rect x="29" width="29" height="38" fill="#b4b4ff"/><rect x="58" width="29" height="38" fill="#ee0000"/><rect x="87" width="29" height="38" fill="#b8b8ff"/><rect class="o" width="116" height="38"/></g><text class="l" x="3081" y="2132">Arginine</text></g>
<g id="n-guanidinobutanoate"><g class="hm" transform="translate(3382,2068)"><rect x="0" width="29" height="38" fill="#ff1111"/><rect x="29" width="29" height="38" fill="#7878ff"/><rect x="58" width="29" height="38" fill="#7c7cff"/><rect x="87" width="29" height="38" fill="#ffe0e0"/><rect class="o" width="116" height="38"/></g><text class="l" x="3459" y="2137">4-Guanidinobutanoate</text></g>
<g id="n-lglutamine"><g class="hm" transform="translate(2385,2004)"><rect x="0" width="29" height="38" fill="#ffa8a8"/><rect x="29" width="29" height="38" fill="#eeeeff"/><rect x="58" width="29" height="38" fill="#1010ff"/><rect x="87" width="29" height="38" fill="#ff5555"/><rect class="o" width="116" height="38"/></g><text class="l" x="2467" y="2081">L-Glutamine</text></g>
<g id="n-proline"><g class="hm" transform="translate(2387,2120)"><rect x="0" width="29" height="38" fill="#a0a0ff"/><rect x="29" width="29" height="38" fill="#a0a0ff"/><rect x="58" width="29" height="38" fill="#ee0000"/><rect x="87" width="29" height="38" fill="#a8a8ff"/><rect class="o" width="116" height="38"/></g><text class="l" x="2437" y="2189">Proline</text></g>
<g id="n-succinylcoa"><text class="l" x="2083" y="2115">Succinic-CoA</text></g>
<g id="n-succinic"><g class="hm" transform="translate(1779,2004)"><rect x="0" width="29" height="38" fill="#4040ff"/><rect x="29" width="29" height="38" fill="#ff1111"/><rect x="58" width="29" height="38" fill="#dcdcff"/><rect x="87" width="29" height="38" fill="#ccccff"/><rect class="o" width="116" height="38"/></g><text class="l" x="1865" y="2066">Succinic acid</text></g>
<g id="n-fumaric"><text class="l" x="1802" y="1903">Fumaric acid</text></g>
<g id="n-smalate"><g class="hm" transform="translate(1704,1709)"><rect x="0" width="29" height="38" fill="#ff3333"/><rect x="29" width="29" height="38" fill="#ffc8c8"/><rect x="58" width="29" height="38" fill="#eeeeff"/><rect x="87" width="29" height="38" fill="#1414ff"/><rect class="o" width="116" height="38"/></g><text class="l" x="1770" y="1774">S-Malate</text></g>
<g id="n-oxaloacetate"><text class="l" x="1884" y="1632">Oxaloacetate</text></g>
<g id="n-laspartate"><g class="hm" transform="translate(1493,1600)"><rect x="0" width="29" height="38" fill="#a0a0ff"/><rect x="29" width="29" height="38" fill="#c8c8ff"/><rect x="58" width="29" height="38" fill="#ee0000"/><rect x="87" width="29" height="38" fill="#8080ff"/><rect class="o" width="116" height="38"/></g><text class="l" x="1581" y="1662">L-Aspartate</text></g>
<g id="n-diaminoheptanedioate"><g class="hm" transform="translate(945,1604)"><rect x="0" width="29" height="38" fill="#dcdcff"/><rect x="29" width="29" height="38" fill="#ffa0a0"/><rect x="58" width="29" height="38" fill="#1a1aff"/><rect x="87" width="29" height="38" fill="#ff5555"/><rect class="o" width="116" height="38"/></g><text class="l" x="1094" y="1672">LL-2,6-Diaminoheptanedioate</text></g>
<g id="n-lysine1"><text class="l" x="793" y="1631">Lysine</text></g>
<g id="n-homoserine"><g class="hm" transform="translate(1251,1723)"><rect x="0" width="29" height="38" fill="#5454ff"/><rect x="29" width="29" height="38" fill="#8888ff"/><rect x="58" width="29" height="38" fill="#ffc0c0"/><rect x="87" width="29" height="38" fill="#ff2222"/><rect class="o" width="116" height="38"/></g><text class="l" x="1324" y="1787">Homoserine</text></g>
<g id="n-threonine"><g class="hm" transform="translate(933,1723)"><rect x="0" width="29" height="38" fill="#6060ff"/><rect x="29" width="29" height="38" fill="#6c6cff"/><rect x="58" width="29" height="38" fill="#ffa0a0"/><rect x="87" width="29" height="38" fill="#ff2222"/><rect class="o" width="116" height="38"/></g><text class="l" x="987" y="1787">Threonine</text></g>
</svg>
